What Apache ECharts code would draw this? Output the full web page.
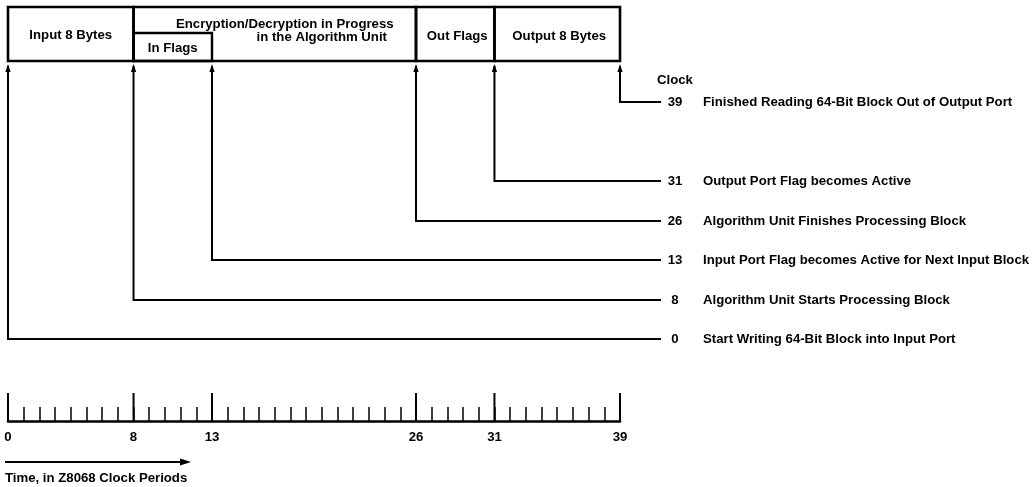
<!DOCTYPE html>
<html>
<head>
<meta charset="utf-8">
<script src="https://cdn.jsdelivr.net/npm/echarts@6/dist/echarts.min.js"></script>
<style>html,body{margin:0;padding:0;background:#fff}#c{width:1035px;height:487px}</style>
</head>
<body>
<div id="c"></div>
<script>
// ---- data ----
const events = [0, 8, 13, 26, 31, 39];
const eventLabels = [
  'Start Writing 64-Bit Block into Input Port',
  'Algorithm Unit Starts Processing Block',
  'Input Port Flag becomes Active for Next Input Block',
  'Algorithm Unit Finishes Processing Block',
  'Output Port Flag becomes Active',
  'Finished Reading 64-Bit Block Out of Output Port'
];
const phaseNames = ['Input 8 Bytes', 'Encryption/Decryption in Progress\nin the Algorithm Unit', 'Out Flags', 'Output 8 Bytes'];
const phaseStart = [0, 8, 26, 31];
const phaseEnd = [8, 26, 31, 39];
const subPhaseNames = ['In Flags'];
const subPhaseStart = [8];
const subPhaseEnd = [13];
const rulerMin = 0;
const rulerMax = 39;
const clockTitle = 'Clock';
const timeTitle = 'Time, in Z8068 Clock Periods';

// ---- layout (pixels) ----
const FONT = 'bold 13.2px "Liberation Sans", Arial, sans-serif';
const INK = '#000';
const L = {
  boxTop: 7, boxBottom: 61, subTop: 33,
  arrowTip: 64, arrowLen: 8, arrowHalf: 2.6,
  rowY: {0: 339, 8: 300, 13: 260, 26: 221, 31: 181, 39: 102},
  lineEndPx: 661, numPx: 675, descPx: 703
};
const phaseLabelPos = [[[0, 35]], [[10, 24], [47, 37]], [[2, 36]], [[2, 36]]];
const subLabelPos = [[0, 48]];

const chart = echarts.init(document.getElementById('c'), null, {renderer: 'canvas'});

function txt(x, y, text, align) {
  return {type: 'text', x: x, y: y, style: {text: text, font: FONT, fill: INK, align: align || 'center', verticalAlign: 'middle'}};
}

const option = {
  animation: false,
  backgroundColor: '#fff',
  grid: [
    {left: 8, right: 7, top: 0, bottom: 0},
    {left: 8, width: 612, top: 393, height: 28}
  ],
  xAxis: [
    {gridIndex: 0, type: 'value', min: 0, max: 65, show: false},
    {gridIndex: 1, type: 'value', min: rulerMin, max: rulerMax, interval: 1,
     axisLine: {show: true, lineStyle: {color: INK, width: 2.6}},
     axisTick: {show: true, inside: true, length: 14, lineStyle: {color: INK, width: 1.5}},
     splitLine: {show: false},
     axisLabel: {margin: 10, color: INK, fontWeight: 'bold', fontSize: 13.2, fontFamily: '"Liberation Sans", Arial, sans-serif',
       formatter: v => events.indexOf(v) >= 0 ? String(v) : ''}}
  ],
  yAxis: [
    {gridIndex: 0, type: 'value', min: 0, max: 487, inverse: true, show: false},
    {gridIndex: 1, type: 'value', min: 0, max: 1, show: false}
  ],
  graphic: [
    txt(657, 80, clockTitle, 'left'),
    {type: 'line', shape: {x1: 5, y1: 462, x2: 182, y2: 462}, style: {stroke: INK, lineWidth: 2}},
    {type: 'polygon', shape: {points: [[191, 462], [180, 458.5], [180, 465.5]]}, style: {fill: INK}},
    txt(5, 478, timeTitle, 'left')
  ],
  series: [
    {
      type: 'custom', xAxisIndex: 0, yAxisIndex: 0, silent: true,
      data: phaseNames.map((n, i) => [phaseStart[i], phaseEnd[i]]),
      renderItem: function (params, api) {
        const i = params.dataIndex;
        const p0 = api.coord([api.value(0), L.boxTop]);
        const p1 = api.coord([api.value(1), L.boxBottom]);
        const children = [{type: 'rect', shape: {x: p0[0], y: p0[1], width: p1[0] - p0[0], height: p1[1] - p0[1]},
          style: {fill: null, stroke: INK, lineWidth: 2.6}}];
        const cx = (p0[0] + p1[0]) / 2;
        phaseNames[i].split('\n').forEach((line, k) => {
          const pos = phaseLabelPos[i][k];
          children.push(txt(cx + pos[0], pos[1], line));
        });
        return {type: 'group', children: children};
      }
    },
    {
      type: 'custom', xAxisIndex: 0, yAxisIndex: 0, silent: true,
      data: subPhaseNames.map((n, i) => [subPhaseStart[i], subPhaseEnd[i]]),
      renderItem: function (params, api) {
        const i = params.dataIndex;
        const p0 = api.coord([api.value(0), L.subTop]);
        const p1 = api.coord([api.value(1), L.boxBottom]);
        const cx = (p0[0] + p1[0]) / 2;
        return {type: 'group', children: [
          {type: 'rect', shape: {x: p0[0], y: p0[1], width: p1[0] - p0[0], height: p1[1] - p0[1]},
            style: {fill: null, stroke: INK, lineWidth: 2.4}},
          txt(cx + subLabelPos[i][0], subLabelPos[i][1], subPhaseNames[i])
        ]};
      }
    },
    {
      type: 'custom', xAxisIndex: 0, yAxisIndex: 0, silent: true,
      data: events.map(v => [v]),
      renderItem: function (params, api) {
        const i = params.dataIndex;
        const v = api.value(0);
        const ry = L.rowY[v];
        const top = api.coord([v, L.arrowTip]);
        const bot = api.coord([v, ry]);
        const x = top[0];
        return {type: 'group', children: [
          {type: 'polyline', shape: {points: [[x, top[1] + 2], [x, bot[1]], [L.lineEndPx, bot[1]]]},
            style: {stroke: INK, lineWidth: 2, fill: null}},
          {type: 'polygon', shape: {points: [[x, top[1]], [x - L.arrowHalf, top[1] + L.arrowLen], [x + L.arrowHalf, top[1] + L.arrowLen]]},
            style: {fill: INK}},
          txt(L.numPx, bot[1], String(v)),
          txt(L.descPx, bot[1], eventLabels[i], 'left')
        ]};
      }
    },
    {
      type: 'custom', xAxisIndex: 1, yAxisIndex: 1, silent: true,
      data: events.map(v => [v]),
      renderItem: function (params, api) {
        const v = api.value(0);
        const a = api.coord([v, 0]);
        const b = api.coord([v, 1]);
        return {type: 'line', shape: {x1: a[0], y1: a[1], x2: b[0], y2: b[1]}, style: {stroke: INK, lineWidth: 2}};
      }
    }
  ]
};
chart.setOption(option);
</script>
</body>
</html>
